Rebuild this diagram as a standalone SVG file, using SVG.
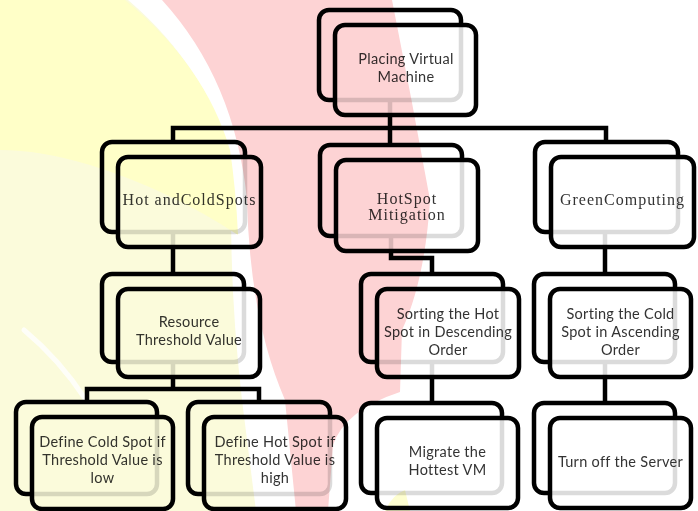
<svg xmlns="http://www.w3.org/2000/svg" width="698" height="511" viewBox="0 0 698 511">
<style>
.bk{fill:#fff;stroke:#000;stroke-width:4.5}
.fr{fill:#fff;fill-opacity:0.86;stroke:#000;stroke-width:4.5}
.t{font-family:Lato,"Liberation Sans",sans-serif;font-size:14.5px;letter-spacing:0.3px;fill:#333;text-anchor:middle}
.s{font-family:"Liberation Serif","DejaVu Serif",serif;font-size:16px;letter-spacing:1px;fill:#333;text-anchor:middle}
.c{fill:none;stroke:#000;stroke-width:4.5}
</style>
<rect width="698" height="511" fill="#fff"/>
<g id="watermark">
<path fill="#fbfbdb" d="M0,0 H128 Q210,70 232,165 Q228,280 242,400 L256,511 H0 Z"/>
<path fill="#ffffc8" d="M0,0 H125 Q205,65 230,150 Q236,190 238,235 Q170,190 90,165 Q40,150 0,150 Z"/>
<path d="M24,330 Q60,360 86,400" stroke="#fff" stroke-width="5" stroke-linecap="round" fill="none" opacity="0.8"/>
<path fill="#fdd3d4" d="M162,0 H392 Q412,100 430,200 Q425,280 402,330 L400,392 Q345,410 333,445 L328,511 H296 L285,400 Q250,320 247,200 Q235,80 162,0 Z"/>
<path fill="#fefed0" d="M385,511 Q392,495 405,490 L410,511 Z"/>
</g>
<g id="diagram" style="mix-blend-mode:multiply">
<g id="connectors">
<path class="c" d="M390,100 V145"/>
<path class="c" d="M173,142 V128 H606 V142"/>
<path class="c" d="M173,232 V274"/>
<path class="c" d="M391,236 V258 H432 V274"/>
<path class="c" d="M605,232 V274"/>
<path class="c" d="M173,362 V389"/>
<path class="c" d="M87,402 V389 H259 V402"/>
<path class="c" d="M432,362 V403"/>
<path class="c" d="M605,362 V403"/>
</g>
<g id="n-root">
<rect class="bk" x="319" y="10" width="142" height="90" rx="10"/>
<rect class="fr" x="335" y="25" width="141" height="90" rx="10"/>
<text class="t" x="406" y="64">Placing Virtual</text>
<text class="t" x="406" y="82">Machine</text>
</g>
<g id="n-hotcold">
<rect class="bk" x="102" y="142" width="143" height="90" rx="10"/>
<rect class="fr" x="118" y="157" width="143" height="90" rx="10"/>
<text class="s" x="189.5" y="205">Hot andColdSpots</text>
</g>
<g id="n-mitigation">
<rect class="bk" x="320" y="145" width="142" height="91" rx="10"/>
<rect class="fr" x="336" y="160" width="142" height="91" rx="10"/>
<text class="s" x="407" y="204">HotSpot</text>
<text class="s" x="407" y="220">Mitigation</text>
</g>
<g id="n-green">
<rect class="bk" x="535" y="142" width="143" height="90" rx="10"/>
<rect class="fr" x="551" y="157" width="143" height="90" rx="10"/>
<text class="s" x="622.5" y="205">GreenComputing</text>
</g>
<g id="n-resource">
<rect class="bk" x="102" y="274" width="142" height="88" rx="10"/>
<rect class="fr" x="118" y="289" width="142" height="88" rx="10"/>
<text class="t" x="189" y="327">Resource</text>
<text class="t" x="189" y="345">Threshold Value</text>
</g>
<g id="n-sorthot">
<rect class="bk" x="361" y="274" width="142" height="88" rx="10"/>
<rect class="fr" x="377" y="289" width="142" height="88" rx="10"/>
<text class="t" x="448" y="319">Sorting the Hot</text>
<text class="t" x="448" y="337">Spot in Descending</text>
<text class="t" x="448" y="355">Order</text>
</g>
<g id="n-sortcold">
<rect class="bk" x="534" y="274" width="141" height="88" rx="10"/>
<rect class="fr" x="550" y="289" width="141" height="88" rx="10"/>
<text class="t" x="620.5" y="319">Sorting the Cold</text>
<text class="t" x="620.5" y="337">Spot in Ascending</text>
<text class="t" x="620.5" y="355">Order</text>
</g>
<g id="n-defcold">
<rect class="bk" x="16" y="402" width="141" height="92" rx="10"/>
<rect class="fr" x="32" y="417" width="141" height="92" rx="10"/>
<text class="t" x="102.5" y="447">Define Cold Spot if</text>
<text class="t" x="102.5" y="465">Threshold Value is</text>
<text class="t" x="102.5" y="483">low</text>
</g>
<g id="n-defhot">
<rect class="bk" x="188" y="402" width="142" height="92" rx="10"/>
<rect class="fr" x="204" y="417" width="142" height="92" rx="10"/>
<text class="t" x="275" y="447">Define Hot Spot if</text>
<text class="t" x="275" y="465">Threshold Value is</text>
<text class="t" x="275" y="483">high</text>
</g>
<g id="n-migrate">
<rect class="bk" x="361" y="403" width="141" height="90" rx="10"/>
<rect class="fr" x="377" y="418" width="141" height="90" rx="10"/>
<text class="t" x="447.5" y="457">Migrate the</text>
<text class="t" x="447.5" y="475">Hottest VM</text>
</g>
<g id="n-turnoff">
<rect class="bk" x="534" y="403" width="141" height="90" rx="10"/>
<rect class="fr" x="550" y="418" width="141" height="90" rx="10"/>
<text class="t" x="620.5" y="467">Turn off the Server</text>
</g>
</g>
</svg>
